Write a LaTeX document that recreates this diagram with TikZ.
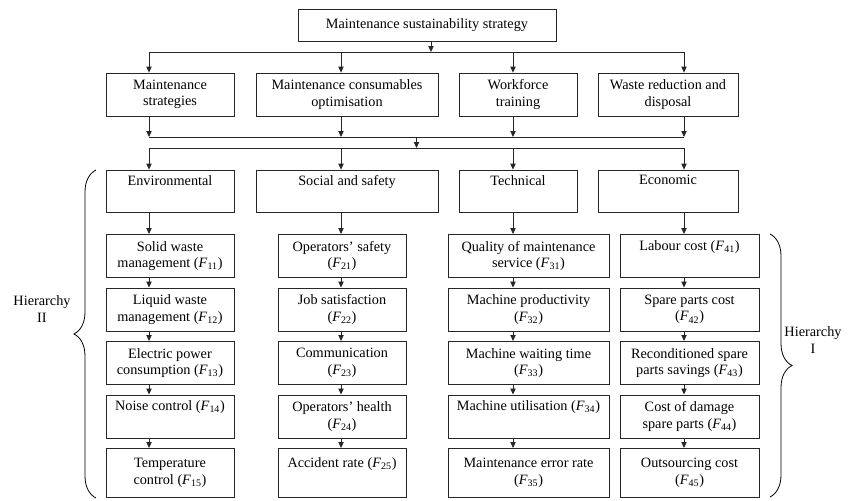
\documentclass[tikz,border=0pt]{standalone}
\usepackage{fontspec}
\setmainfont{Liberation Serif}
\usetikzlibrary{arrows.meta,decorations.pathreplacing}

\newcommand{\fac}[1]{(\textit{F}\textsubscript{#1})}

\tikzset{
  box/.style={draw=black!85, line width=0.6pt, align=center, inner sep=1pt,
    font=\fontsize{10.7}{12.4}\selectfont},
  arr/.style={-{Triangle[length=4.5pt,width=4pt]}, line width=0.6pt, draw=black!85},
  bus/.style={line width=0.6pt, draw=black!85},
  hbrace/.style={decorate, decoration={brace, amplitude=16.5pt}, line width=0.6pt},
  hlabel/.style={align=center, inner sep=0pt, font=\fontsize{10.7}{12.4}\selectfont}
}

\begin{document}
\begin{tikzpicture}[x=0.75pt, y=-0.75pt]
  \useasboundingbox (0,0) rectangle (852,500);

  % columns of the connectors
  \coordinate (x1) at (149,0);
  \coordinate (x2) at (341,0);
  \coordinate (x3) at (513,0);
  \coordinate (x4) at (684,0);
  \coordinate (xt) at (431,0);
  \coordinate (xm) at (416.5,0);
  \coordinate (busA) at (0,52);
  \coordinate (busB) at (0,137);
  \coordinate (busC) at (0,148);

  \node[box, minimum width=193.5pt, minimum height=24pt] (top) at (427,25)
    {Maintenance sustainability strategy};

  % strategies
  \node[box, minimum width=96pt, minimum height=32.25pt] (s1) at (170,94.5) {Maintenance\\strategies};
  \node[box, minimum width=136.5pt, minimum height=32.25pt] (s2) at (347,94.5) {Maintenance consumables\\optimisation};
  \node[box, minimum width=88.5pt, minimum height=32.25pt] (s3) at (518,94.5) {Workforce\\training};
  \node[box, minimum width=105pt, minimum height=32.25pt] (s4) at (668,94.5) {Waste reduction and\\disposal};

  % dimensions
  \node[box, minimum width=96pt, minimum height=31.5pt] (d1) at (170,191) {Environmental\\\strut};
  \node[box, minimum width=136.5pt, minimum height=31.5pt] (d2) at (347,191) {Social and safety\\\strut};
  \node[box, minimum width=88.5pt, minimum height=31.5pt] (d3) at (518,191) {Technical\\\strut};
  \node[box, minimum width=105pt, minimum height=31.5pt] (d4) at (668,191) {Economic\\\strut};

  % factors
  \foreach \t [count=\r] in {{Solid waste\\management \fac{11}}, {Liquid waste\\management \fac{12}},
      {Electric power\\consumption \fac{13}}, {Noise control \fac{14}\\\strut}, {Temperature\\control \fac{15}}} {
    \pgfmathsetmacro\hh{\r<5 ? 32.25 : 36.75}
    \node[box, anchor=north, minimum width=96pt, minimum height=\hh pt] (f1\r) at (170,{234+53.5*(\r-1)}) {\t};
  }
  \foreach \t [count=\r] in {{Operators’ safety\\\fac{21}}, {Job satisfaction\\\fac{22}},
      {Communication\\\fac{23}}, {Operators’ health\\\fac{24}}, {Accident rate \fac{25}\\\strut}} {
    \pgfmathsetmacro\hh{\r<5 ? 32.25 : 36.75}
    \node[box, anchor=north, minimum width=96pt, minimum height=\hh pt] (f2\r) at (342,{234+53.5*(\r-1)}) {\t};
  }
  \foreach \t [count=\r] in {{Quality of maintenance\\service \fac{31}}, {Machine productivity\\\fac{32}},
      {Machine waiting time\\\fac{33}}, {Machine utilisation \fac{34}\\\strut}, {Maintenance error rate\\\fac{35}}} {
    \pgfmathsetmacro\hh{\r<5 ? 32.25 : 36.75}
    \node[box, anchor=north, minimum width=120.75pt, minimum height=\hh pt] (f3\r) at (528.5,{234+53.5*(\r-1)}) {\t};
  }
  \foreach \t [count=\r] in {{Labour cost \fac{41}\\\strut}, {Spare parts cost\\\fac{42}},
      {Reconditioned spare\\parts savings \fac{43}}, {Cost of damage\\spare parts \fac{44}}, {Outsourcing cost\\\fac{45}}} {
    \pgfmathsetmacro\hh{\r<5 ? 32.25 : 36.75}
    \node[box, anchor=north, minimum width=104.25pt, minimum height=\hh pt] (f4\r) at (689.5,{234+53.5*(\r-1)}) {\t};
  }

  % connectors
  \draw[arr] (xt |- top.south) -- (xt |- busA);
  \draw[bus] (x1 |- busA) -- (x4 |- busA);
  \draw[bus] (x1 |- busB) -- (x4 |- busB);
  \draw[arr] (xm |- busB) -- (xm |- busC);
  \draw[bus] (x1 |- busC) -- (x4 |- busC);
  \foreach \i in {1,...,4} {
    \draw[arr] (x\i |- busA) -- (x\i |- s\i.north);
    \draw[arr] (x\i |- s\i.south) -- (x\i |- busB);
    \draw[arr] (x\i |- busC) -- (x\i |- d\i.north);
    \draw[arr] (x\i |- d\i.south) -- (x\i |- f\i1.north);
    \foreach \r [evaluate=\r as \n using int(\r+1)] in {1,...,4}
      \draw[arr] (x\i |- f\i\r.south) -- (x\i |- f\i\n.north);
  }

  % hierarchies
  \draw[hbrace] (96,498) -- (96,170);
  \draw[hbrace] (770,234) -- (770,497);
  \node[hlabel] (h2) at (42,309) {Hierarchy\\II};
  \node[hlabel] (h1) at (813,340) {Hierarchy\\I};
\end{tikzpicture}
\end{document}
